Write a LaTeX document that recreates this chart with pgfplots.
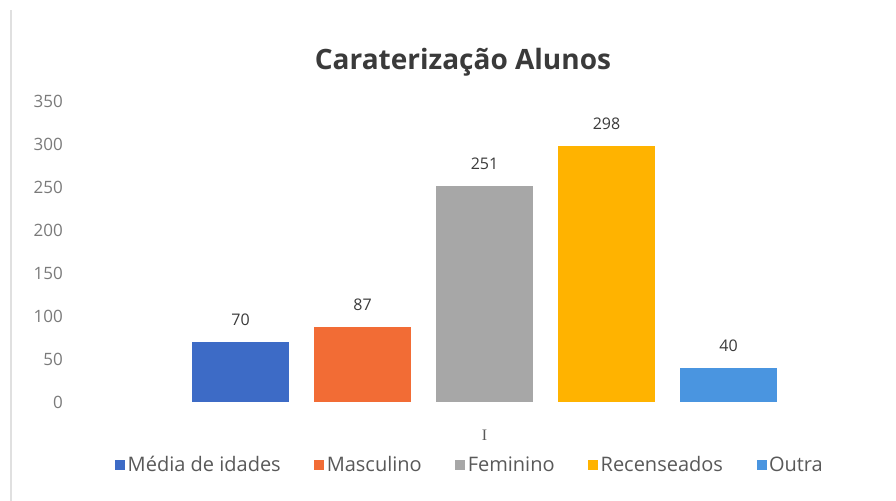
\documentclass[border=0pt]{standalone}
\usepackage{fontspec}
\setmainfont{Open Sans}
\newfontfamily\serifI{Liberation Serif}
\usepackage{pgfplots}
\pgfplotsset{compat=1.18}
\definecolor{cBlue}{HTML}{3D6BC6}
\definecolor{cOrange}{HTML}{F26C35}
\definecolor{cGray}{HTML}{A7A7A7}
\definecolor{cYellow}{HTML}{FFB300}
\definecolor{cLBlue}{HTML}{4A95E0}
\definecolor{txt}{HTML}{595959}
\definecolor{ttl}{HTML}{3A3A3A}
\begin{document}
\begin{tikzpicture}
\path[use as bounding box] (-80bp,-99bp) rectangle (816bp,402bp);
\draw[color=black!12, line width=1.2bp] (-69bp,392bp) -- (-69bp,-99bp);
\begin{axis}[
  at={(0,0)}, anchor=south west,
  scale only axis, width=809bp, height=301bp,
  xmin=0, xmax=2, ymin=0, ymax=350,
  axis line style={draw=none}, major tick style={draw=none},
  /pgf/number format/assume math mode=true,
  ytick={0,50,...,350},
  yticklabel style={font=\fontsize{17bp}{20bp}\selectfont, color=txt!80, anchor=east, inner sep=0pt, xshift=-17bp},
  xtick={1}, xticklabels={I},
  xticklabel style={font=\serifI\fontsize{16bp}{18bp}\selectfont, color=txt, anchor=center, inner sep=0pt, yshift=-29bp},
  ybar=25bp, bar width=97bp,
  nodes near coords,
  every node near coord/.append style={font=\fontsize{16bp}{19bp}\selectfont, color=ttl, inner sep=0pt, yshift=16bp},
  legend columns=-1,
  legend cell align=left,
  legend image code/.code={\fill[#1,draw=none] (0bp,-5bp) rectangle (10bp,5bp);},
  legend style={draw=none, fill=none, inner sep=0pt, at={(0.0433,-0.209)}, anchor=west,
    font=\fontsize{20bp}{23bp}\selectfont, text=txt,
    nodes={inner sep=2.5bp},
    /tikz/every even column/.append style={column sep=31bp}},
]
\addplot[fill=cBlue, draw=none] coordinates {(1,70)};
\addplot[fill=cOrange, draw=none] coordinates {(1,87)};
\addplot[fill=cGray, draw=none] coordinates {(1,251)};
\addplot[fill=cYellow, draw=none] coordinates {(1,298)};
\addplot[fill=cLBlue, draw=none] coordinates {(1,40)};
\legend{Média de idades, Masculino, Feminino, Recenseados, Outra}
\end{axis}
\node[font=\bfseries\fontsize{28bp}{32bp}\selectfont, color=ttl] at (383bp,340bp) {Caraterização Alunos};
\end{tikzpicture}
\end{document}
